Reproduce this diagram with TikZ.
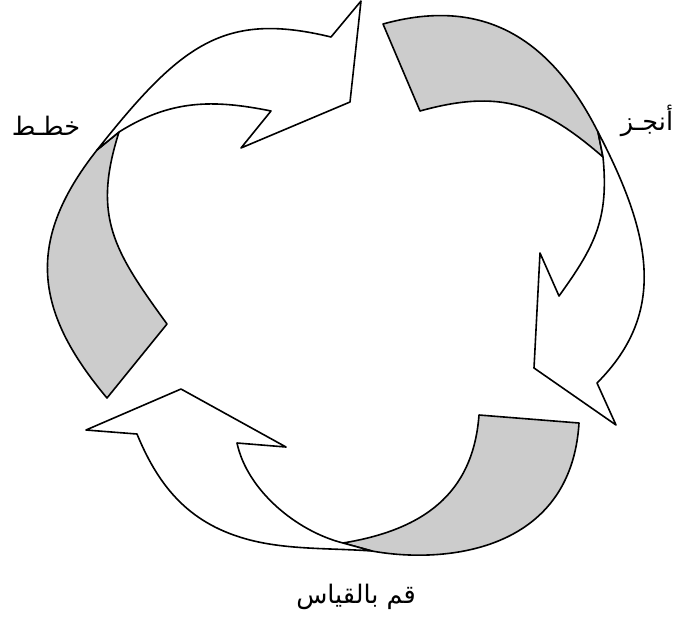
\documentclass[tikz,border=0pt]{standalone}
\usepackage{fontspec}
\newfontfamily\arabicfont[Script=Arabic]{DejaVu Sans}
\TeXXeTstate=1
\definecolor{backface}{RGB}{204,204,204}
\begin{document}
\begin{tikzpicture}[x=1pt,y=-1pt,line join=round,
  face/.style={draw=black,line width=1.6pt,fill=white},
  back/.style={draw=black,line width=1.6pt,fill=backface},
  steplabel/.style={font=\arabicfont\fontsize{25.5}{30}\selectfont,inner sep=0pt}]
\useasboundingbox (0,0) rectangle (679,622);

% tail ends and joints of the three arrows
\coordinate (tl) at (97,150);  \coordinate (jl) at (119,132);
\coordinate (tr) at (598,132); \coordinate (jr) at (603,157);
\coordinate (tb) at (372,551); \coordinate (jb) at (343,543);

% left back face
\filldraw[back] (107,398) .. controls (33,310) and (26,240) .. (tl)
  -- (jl) .. controls (92,217) and (114,251) .. (167,324) -- cycle;

% top arrow
\filldraw[face] (tl) .. controls (181,44) and (224,11) .. (331,37)
  -- (361,1) -- (350,102) -- (241,148) -- (271,111)
  .. controls (212,99) and (170,100) .. (jl) -- cycle;

% right back face
\filldraw[back] (383,24) .. controls (484,-4) and (551,39) .. (tr)
  -- (jr) .. controls (541,103) and (499,89) .. (420,111) -- cycle;

% right arrow
\filldraw[face] (tr) .. controls (651,234) and (668,312) .. (597,383)
  -- (616,425) -- (534,368) -- (540,253) -- (559,296)
  .. controls (595,246) and (609,219) .. (jr) -- cycle;

% bottom back face
\filldraw[back] (579,423) .. controls (571,553) and (443,564) .. (tb)
  -- (jb) .. controls (422,530) and (473,495) .. (479,415) -- cycle;

% bottom arrow
\filldraw[face] (tb) .. controls (332,548) and (289,550) .. (250,540)
  .. controls (192,525) and (160,490) .. (137,434)
  -- (86,430) -- (181,389) -- (286,447) -- (237,443)
  .. controls (247,490) and (296,531) .. (jb) -- cycle;

% step labels
\node[steplabel] (plan) at (46,126) {\beginR خطـط\endR};
\node[steplabel] (do) at (647,121) {\beginR أنجـز\endR};
\node[steplabel] (check) at (356,597) {\beginR قم بالقياس\endR};
\end{tikzpicture}
\end{document}
